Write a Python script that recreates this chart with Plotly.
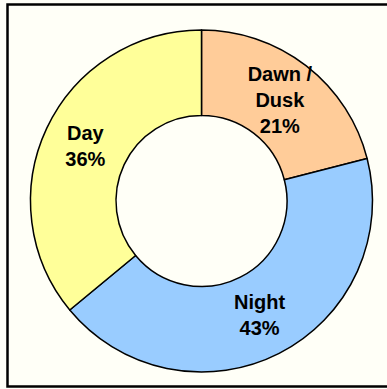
import plotly.graph_objects as go

labels = ["Dawn /<br>Dusk", "Night", "Day"]
values = [21, 43, 36]
colors = ["#FFCC99", "#99CCFF", "#FFFF99"]

W, H = 387, 389
bg = "#FFFFF7"

fig = go.Figure(go.Pie(
    labels=labels,
    values=values,
    hole=0.5,
    sort=False,
    direction="clockwise",
    rotation=0,
    marker=dict(colors=colors, line=dict(color="black", width=1.5)),
    texttemplate="<b>%{label}<br>%{percent:.0%}</b>",
    textposition="inside",
    insidetextorientation="horizontal",
    insidetextfont=dict(family="Liberation Sans, Arial", size=20, color="black"),
    domain=dict(x=[30 / W, 373 / W], y=[1 - 372 / H, 1 - 30 / H]),
    showlegend=False,
))

fig.update_layout(
    width=W, height=H,
    margin=dict(l=0, r=0, t=0, b=0),
    paper_bgcolor=bg,
    plot_bgcolor=bg,
    uniformtext=dict(minsize=20, mode="show"),
    shapes=[dict(
        type="rect", xref="paper", yref="paper",
        x0=7.5 / W, x1=1.05, y0=1 - 386.5 / H, y1=1 - 4.5 / H,
        line=dict(color="black", width=2.5),
        fillcolor="rgba(0,0,0,0)",
    )],
)

fig.write_html("out.html")
